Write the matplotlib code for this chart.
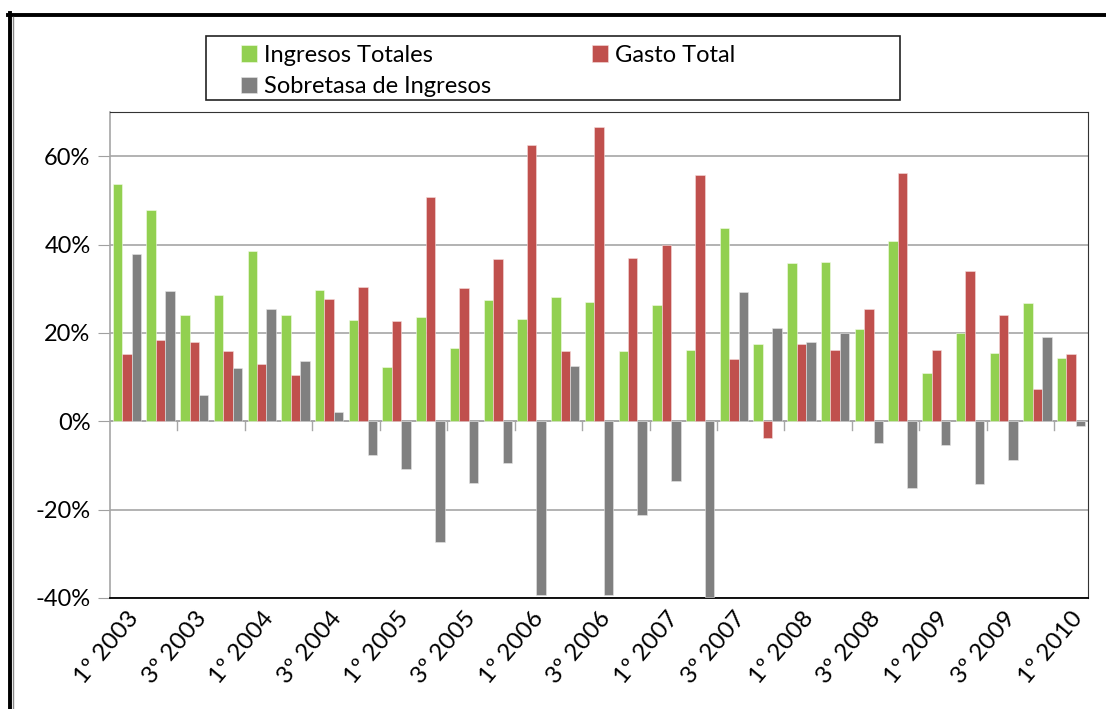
import matplotlib
matplotlib.use("Agg")
import matplotlib.pyplot as plt
import numpy as np
from matplotlib.ticker import FuncFormatter
from matplotlib.lines import Line2D
from matplotlib.patches import Rectangle

plt.rcParams['font.family'] = ['Lato', 'DejaVu Sans']

quarters = ['1º 2003', '2º 2003', '3º 2003', '4º 2003',
            '1º 2004', '2º 2004', '3º 2004', '4º 2004',
            '1º 2005', '2º 2005', '3º 2005', '4º 2005',
            '1º 2006', '2º 2006', '3º 2006', '4º 2006',
            '1º 2007', '2º 2007', '3º 2007', '4º 2007',
            '1º 2008', '2º 2008', '3º 2008', '4º 2008',
            '1º 2009', '2º 2009', '3º 2009', '4º 2009',
            '1º 2010']

ingresos = [53.7, 47.8, 24.1, 28.5, 38.5, 24.1, 29.6, 22.9, 12.3, 23.5,
            16.5, 27.4, 23.2, 28.2, 27.0, 15.9, 26.4, 16.2, 43.7, 17.6,
            35.8, 36.1, 20.9, 40.8, 10.9, 20.0, 15.5, 26.7, 14.4]
gasto = [15.2, 18.5, 17.9, 15.8, 13.0, 10.4, 27.6, 30.5, 22.6, 50.8,
         30.2, 36.7, 62.5, 15.9, 66.6, 37.0, 40.0, 55.8, 14.1, -3.7,
         17.6, 16.2, 25.3, 56.1, 16.2, 34.1, 24.1, 7.4, 15.2]
sobretasa = [37.9, 29.4, 5.9, 12.1, 25.3, 13.6, 2.1, -7.7, -10.7, -27.4,
             -13.9, -9.5, -39.4, 12.4, -39.4, -21.3, -13.6, -39.8, 29.3, 21.2,
             18.0, 19.9, -4.9, -15.2, -5.4, -14.2, -8.7, 19.1, -1.0]

c_green = '#92D050'
c_red = '#C0504D'
c_gray = '#808080'

W, H = 1106, 709
fig = plt.figure(figsize=(W / 100, H / 100), dpi=100)
ax = fig.add_axes([110 / W, 1 - 598 / H, (1088 - 110) / W, (598 - 112) / H])

x = np.arange(len(quarters))
w = 0.28
b1 = ax.bar(x - w, ingresos, w, color=c_green, edgecolor='#f4fbe9', linewidth=0.4,
            zorder=3)
b2 = ax.bar(x, gasto, w, color=c_red, edgecolor='#f6dcdb', linewidth=0.4,
            zorder=3)
b3 = ax.bar(x + w, sobretasa, w, color=c_gray, edgecolor='#e6e6e6', linewidth=0.4,
            zorder=3)

ax.set_xlim(-0.5, len(quarters) - 0.5)
ax.set_ylim(-40, 70)

# labels on every other quarter, no marks there
ax.set_xticks(x[::2])
ax.set_xticklabels(quarters[::2], rotation=50, ha='right', va='top',
                   rotation_mode='anchor', fontsize=17.5)
ax.tick_params(axis='x', length=0, pad=7)

# category separators sit on the zero line
for t in np.arange(1.5, len(quarters) - 1, 2):
    ax.plot([t, t], [0, -2.0], color='#a6a6a6', linewidth=1.0, zorder=2,
            clip_on=False)

ax.set_yticks([-40, -20, 0, 20, 40, 60])
ax.yaxis.set_major_formatter(FuncFormatter(lambda v, p: f'{v:.0f}%'))
ax.tick_params(axis='y', length=9, color='#a0a0a0', labelsize=17, pad=5)
ax.grid(axis='y', color='#a6a6a6', linewidth=1.2, zorder=0)
ax.axhline(0, color='#a6a6a6', linewidth=1.2, zorder=2)

ax.spines['bottom'].set_color('black')
ax.spines['bottom'].set_linewidth(1.3)
ax.spines['top'].set_color('#333333')
ax.spines['right'].set_color('#333333')
ax.spines['left'].set_color('#a6a6a6')
ax.spines['left'].set_linewidth(1.2)

# legend, with its frame drawn separately to match the box size
fig.add_artist(Rectangle((206 / W, 1 - 100 / H), (900 - 206) / W, (100 - 36) / H,
                         transform=fig.transFigure, fill=False,
                         edgecolor='#222222', linewidth=1.2))
fig.legend([b1, b3, b2],
           ['Ingresos Totales', 'Sobretasa de Ingresos', 'Gasto Total'],
           ncol=2, loc='upper left', bbox_to_anchor=(224 / W, 1 - 28 / H),
           frameon=False, fontsize=17, handlelength=0.7, handleheight=0.7,
           handletextpad=0.3, columnspacing=4.25, labelspacing=0.45,
           borderpad=0.2)

# outer chart border (top and left only)
fig.add_artist(Line2D([8 / W, 1], [1 - 14.5 / H, 1 - 14.5 / H],
                      transform=fig.transFigure, color='black', linewidth=2.8))
fig.add_artist(Line2D([9.5 / W, 9.5 / W], [0, 1 - 13 / H],
                      transform=fig.transFigure, color='black', linewidth=2.8))
fig.add_artist(Line2D([13 / W, 13 / W], [0, 1 - 17 / H],
                      transform=fig.transFigure, color='#8a8a8a', linewidth=1.0))

fig.savefig('out.png', dpi=100)
